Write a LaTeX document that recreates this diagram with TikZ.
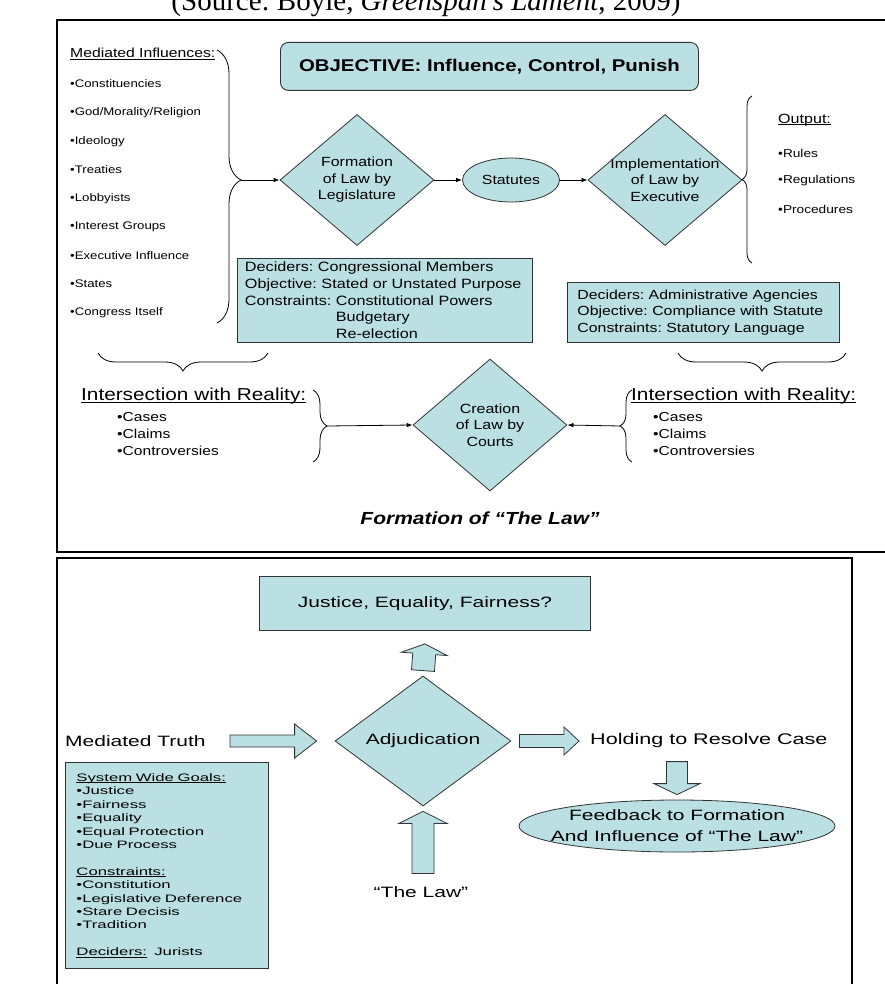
\documentclass[tikz,border=0pt]{standalone}
\usepackage{fontspec}
\setmainfont{Liberation Sans}[FakeStretch=1.2]
\newfontfamily\widefont{Liberation Sans}[FakeStretch=1.4]
\newfontfamily\xwidefont{Liberation Sans}[FakeStretch=1.55]
\newfontfamily\capfont{Liberation Serif}
\usetikzlibrary{shapes.geometric,arrows.meta,decorations.pathreplacing,calc}
\definecolor{tealfill}{RGB}{187,224,227}
\newcommand\fsz[2]{\fontsize{#1}{#2}\selectfont}
\newcommand\myul[1]{\leavevmode\setbox0=\hbox{#1}\rlap{\rule[-0.14em]{\wd0}{0.065em}}\box0}
\newcommand\blockarrow[5]{%
  \coordinate (bac) at ($(#2)!#5!(#1)$);
  \draw[barrow] ($(#1)!#3!90:(#2)$) -- ($(bac)!#3!-90:(#1)$) -- ($(bac)!#4!-90:(#1)$) -- (#2)
     -- ($(bac)!#4!90:(#1)$) -- ($(bac)!#3!90:(#1)$) -- ($(#1)!#3!-90:(#2)$) -- cycle;}
\begin{document}
\frenchspacing
\begin{tikzpicture}[x=1pt,y=-1pt,
  box/.style={draw=black!80, fill=tealfill, line width=0.9pt, inner sep=0pt},
  diam/.style={diamond, draw=black!80, fill=tealfill, line width=0.8pt, inner sep=0pt},
  oval/.style={ellipse, draw=black!80, fill=tealfill, line width=0.8pt, inner sep=0pt},
  conn/.style={line width=0.8pt, -{Latex[length=6pt,width=4.5pt]}},
  brc/.style={line width=0.8pt, decorate},
  frm/.style={line width=2.6pt},
  barrow/.style={draw=black!80, fill=tealfill, line width=0.8pt, line join=miter},
  txt/.style={inner sep=0pt},
]
\useasboundingbox (0,0) rectangle (885,984);
% caption (cut off at the top edge, as in the reference)
\node[txt, anchor=base, font=\capfont\fsz{29}{32}] (cap) at (426,11) {(Source: Boyle, \textit{Greenspan’s Lament}, 2009)};
% frames
\draw[frm] (900,20) -- (57,20) -- (57,552) -- (900,552);
\draw[frm] (852,1000) -- (852,558) -- (57,558) -- (57,1000);

% ---------- top section ----------
\node[txt, anchor=west, font=\fsz{13.1}{15}] (medinf) at (70,54) {\myul{Mediated Influences:}};
\foreach \t [count=\i] in {Constituencies, God/Morality/Religion, Ideology, Treaties, Lobbyists, Interest Groups, Executive Influence, States, Congress Itself}
  \node[txt, anchor=west, font=\fsz{11}{13}] (inf\i) at (70,{84+28.6*(\i-1)}) {•\t};
\draw[brc, decoration={brace, amplitude=24pt, aspect=0.476}] (217,50) -- (217,323);
\coordinate (lbt) at (241,180);

\node[box, rounded corners=8pt, anchor=north west, minimum width=418pt, minimum height=48pt,
  font=\bfseries\fsz{17}{20}] (obj) at (280,42) {OBJECTIVE: Influence, Control, Punish};

\node[diam, minimum width=154pt, minimum height=131pt] (form) at (357,180) {};
\node[txt, align=center, font=\fsz{13.3}{16.5}] (formt) at (form) {Formation\\of Law by\\Legislature};
\node[oval, minimum width=97pt, minimum height=44pt, font=\fsz{13.2}{15}] (stat) at (511,180) {Statutes};
\node[diam, minimum width=154pt, minimum height=131pt] (impl) at (665,180) {};
\node[txt, align=center, font=\fsz{13.3}{16.5}] (implt) at (impl) {Implementation\\of Law by\\Executive};
\draw[conn] (lbt) -- (form.west);
\draw[conn] (form.east) -- (stat.west);
\draw[conn] (stat.east) -- (impl.west);

\draw[brc, decoration={brace, amplitude=10pt, aspect=0.5}] (752,263) -- (752,96);
\node[txt, anchor=west, font=\fsz{13.4}{15}] (outp) at (778,120) {\myul{Output:}};
\node[txt, anchor=west, font=\fsz{11.4}{13}] (o1) at (778,153) {•Rules};
\node[txt, anchor=west, font=\fsz{11.4}{13}] (o2) at (778,181) {•Regulations};
\node[txt, anchor=west, font=\fsz{11.4}{13}] (o3) at (778,209) {•Procedures};

\node[box, anchor=north west, minimum width=295pt, minimum height=84pt, text width=280pt, align=left,
  font=\fsz{13.5}{16.7}] (ldec) at (237,258)
  {Deciders: Congressional Members\\Objective: Stated or Unstated Purpose\\Constraints: Constitutional Powers\\
   \phantom{Constraints: }Budgetary\\\phantom{Constraints: }Re-election};
\node[box, anchor=north west, minimum width=272pt, minimum height=60pt, text width=252pt, align=left,
  font=\fsz{13.2}{16.4}] (rdec) at (567,282)
  {Deciders: Administrative Agencies\\Objective: Compliance with Statute\\Constraints: Statutory Language};

\draw[brc, decoration={brace, amplitude=18pt}] (268,353) -- (98,353);
\draw[brc, decoration={brace, amplitude=18pt}] (846,353) -- (678,353);

\node[diam, minimum width=154pt, minimum height=132pt] (creat) at (490,425) {};
\node[txt, align=center, font=\fsz{13.3}{16.5}] (creatt) at (creat) {Creation\\of Law by\\Courts};

\node[txt, anchor=west, font=\fsz{17.3}{20}] (isl) at (81,396) {\myul{Intersection with Reality:}};
\node[txt, anchor=west, font=\fsz{13}{15}] (isl1) at (117,417) {•Cases};
\node[txt, anchor=west, font=\fsz{13}{15}] (isl2) at (117,434) {•Claims};
\node[txt, anchor=west, font=\fsz{13}{15}] (isl3) at (117,451) {•Controversies};
\draw[brc, decoration={brace, amplitude=14pt}] (313,390) -- (313,462);
\coordinate (ilt) at (327,426);
\draw[conn] (ilt) -- (creat.west);

\node[txt, anchor=west, font=\fsz{17.3}{20}] (isr) at (631,396) {\myul{Intersection with Reality:}};
\node[txt, anchor=west, font=\fsz{13}{15}] (isr1) at (653,417) {•Cases};
\node[txt, anchor=west, font=\fsz{13}{15}] (isr2) at (653,434) {•Claims};
\node[txt, anchor=west, font=\fsz{13}{15}] (isr3) at (653,451) {•Controversies};
\draw[brc, decoration={brace, amplitude=12pt}] (632,462) -- (632,390);
\coordinate (irt) at (620,426);
\draw[conn] (irt) -- (creat.east);

\node[txt, font=\bfseries\itshape\fsz{17.5}{20}] (ftl) at (480,518) {Formation of “The Law”};

% ---------- bottom section ----------
\node[box, anchor=north west, minimum width=331pt, minimum height=54pt, font=\widefont\fsz{15}{18}] (just) at (259,576) {Justice, Equality, Fairness?};
\node[diam, minimum width=176pt, minimum height=130pt, font=\widefont\fsz{15}{18}] (adj) at (423,741) {Adjudication};
\node[txt, anchor=west, font=\widefont\fsz{15}{18}] (mt) at (65,741) {Mediated Truth};
\node[txt, anchor=west, font=\widefont\fsz{15.4}{18}] (hold) at (590,741) {Holding to Resolve Case};
\node[oval, minimum width=316pt, minimum height=52pt] (fb) at (677,826) {};
\node[txt, align=center, font=\widefont\fsz{15}{21}] (fbt) at (fb) {Feedback to Formation\\And Influence of “The Law”};
\node[txt, font=\widefont\fsz{15}{18}] (law) at (421,892) {“The Law”};
\node[box, anchor=north west, minimum width=203pt, minimum height=206pt, text width=181pt, align=left,
  font=\xwidefont\fsz{10.8}{13.4}] (sys) at (65,762)
  {\myul{System Wide Goals:}\\•Justice\\•Fairness\\•Equality\\•Equal Protection\\•Due Process\\[13.4pt]
   \myul{Constraints:}\\•Constitution\\•Legislative Deference\\•Stare Decisis\\•Tradition\\[13.4pt]
   \myul{Deciders:}\ \ Jurists};

\coordinate (jA) at ($(adj.north)+(0,-5)$);
\coordinate (jB) at ($(just.south)+(0,13)$);
\blockarrow{jA}{jB}{11.5pt}{23pt}{10pt}
\coordinate (mA) at (230,741);
\coordinate (mB) at ($(adj.west)+(-18,0)$);
\blockarrow{mA}{mB}{6pt}{17pt}{22pt}
\coordinate (hA) at ($(adj.east)+(8,0)$);
\coordinate (hB) at ($(hold.west)+(-11,0)$);
\blockarrow{hA}{hB}{6.5pt}{14pt}{15pt}
\coordinate (dA) at ($(fb.north)+(0,-38)$);
\coordinate (dB) at ($(fb.north)+(0,-5)$);
\blockarrow{dA}{dB}{10.5pt}{23pt}{11pt}
\coordinate (lA) at ($(adj.south)+(0,67)$);
\coordinate (lB) at ($(adj.south)+(0,5)$);
\blockarrow{lA}{lB}{11pt}{24pt}{12pt}
\end{tikzpicture}
\end{document}
